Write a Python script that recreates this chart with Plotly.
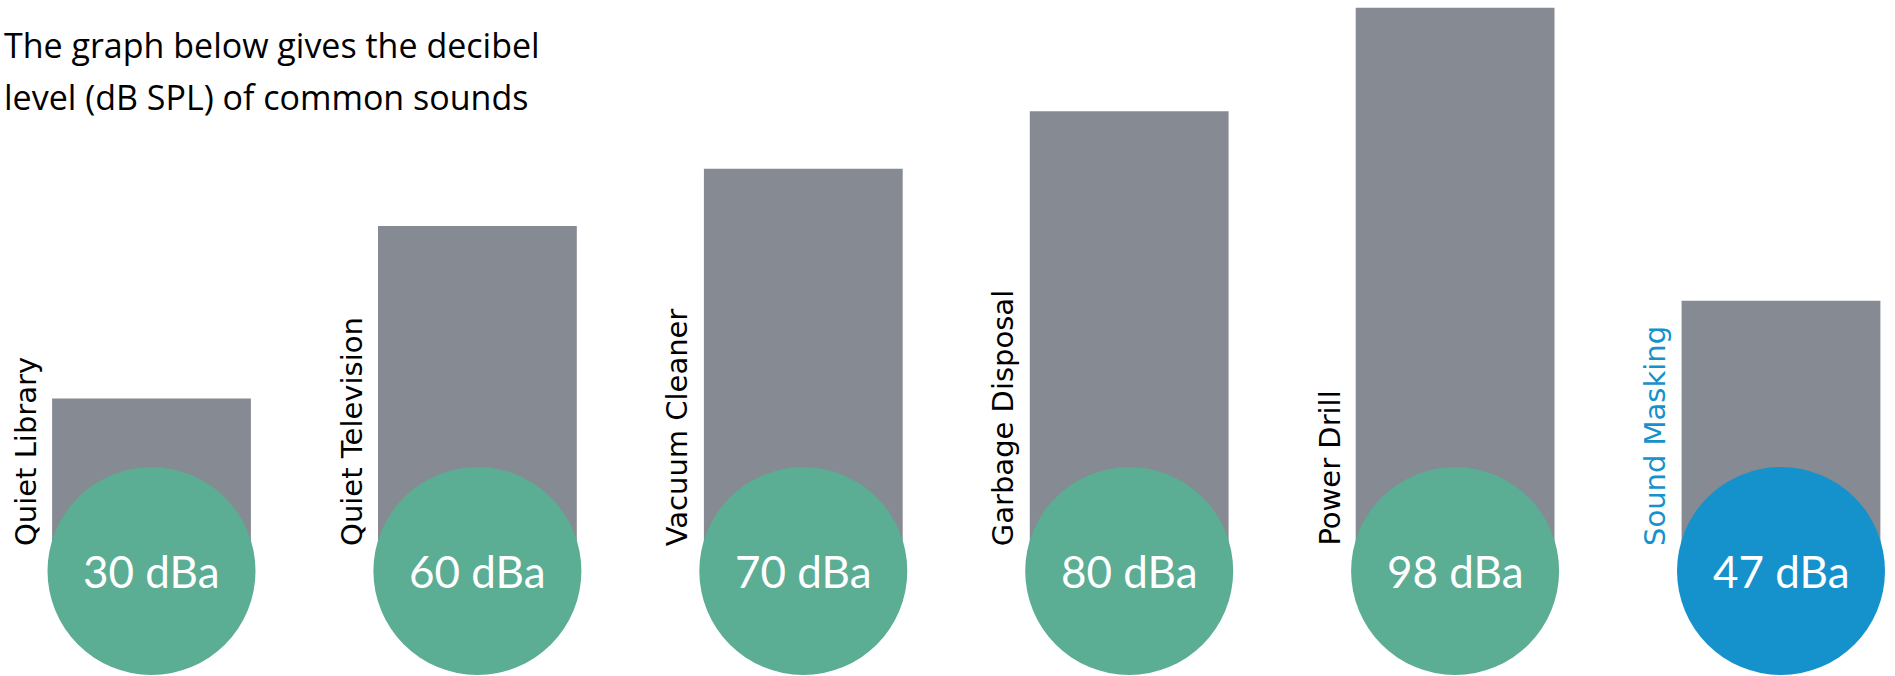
import plotly.graph_objects as go

# Decibel levels of everyday sounds
sounds = ["Quiet Library", "Quiet Television", "Vacuum Cleaner",
          "Garbage Disposal", "Power Drill", "Sound Masking"]
levels = [30, 60, 70, 80, 98, 47]
unit = "dBa"
highlight = "Sound Masking"

BAR_GRAY = "#868a92"
GREEN = "#5bad93"
BLUE = "#1592cc"

W, H = 1895, 676
step_px = 325.9          # horizontal distance between bar centres
first_px = 151.5         # centre of the first bar
px_per_db = 5.748
base_px = 571            # baseline (0 dB) measured from the top

x_lo = -first_px / step_px
x_hi = x_lo + W / step_px
y_hi = base_px / px_per_db
y_lo = -(H - base_px) / px_per_db

idx = list(range(len(sounds)))
fig = go.Figure()
fig.add_trace(go.Bar(
    x=idx, y=levels, width=0.61,
    marker=dict(color=BAR_GRAY, line=dict(width=0)),
    hoverinfo="skip",
))

radius = 104
shapes = []
annotations = []
for i, (name, val) in enumerate(zip(sounds, levels)):
    col = BLUE if name == highlight else GREEN
    shapes.append(dict(
        type="circle", xref="x", yref="y", layer="above",
        xsizemode="pixel", ysizemode="pixel", xanchor=i, yanchor=0,
        x0=-radius, x1=radius, y0=-radius, y1=radius,
        fillcolor=col, line=dict(width=0),
    ))
    annotations.append(dict(
        x=i, y=0, xref="x", yref="y", showarrow=False,
        text=f"{val} {unit}", xanchor="center", yanchor="middle",
        font=dict(family="Lato", size=44, color="white"),
    ))
    annotations.append(dict(
        x=i, y=0, xref="x", yref="y", showarrow=False,
        text=name, textangle=-90, xanchor="right", yanchor="bottom",
        xshift=-107, yshift=23,
        font=dict(family="DejaVu Sans", size=29,
                  color=BLUE if name == highlight else "black"),
    ))

annotations.append(dict(
    x=0.001, y=1 - 70 / H, xref="paper", yref="paper", showarrow=False,
    xanchor="left", yanchor="bottom",
    text="The graph below gives the decibel",
    font=dict(family="Open Sans", size=34, color="black"),
))
annotations.append(dict(
    x=0.001, y=1 - 122 / H, xref="paper", yref="paper", showarrow=False,
    xanchor="left", yanchor="bottom",
    text="level (dB SPL) of common sounds",
    font=dict(family="Open Sans", size=34, color="black"),
))

fig.update_layout(
    width=W, height=H,
    margin=dict(l=0, r=0, t=0, b=0),
    paper_bgcolor="white", plot_bgcolor="white",
    showlegend=False,
    xaxis=dict(range=[x_lo, x_hi], visible=False, fixedrange=True),
    yaxis=dict(range=[y_lo, y_hi], visible=False, fixedrange=True),
    shapes=shapes, annotations=annotations,
)

fig.write_html("out.html", config={"displayModeBar": False})
